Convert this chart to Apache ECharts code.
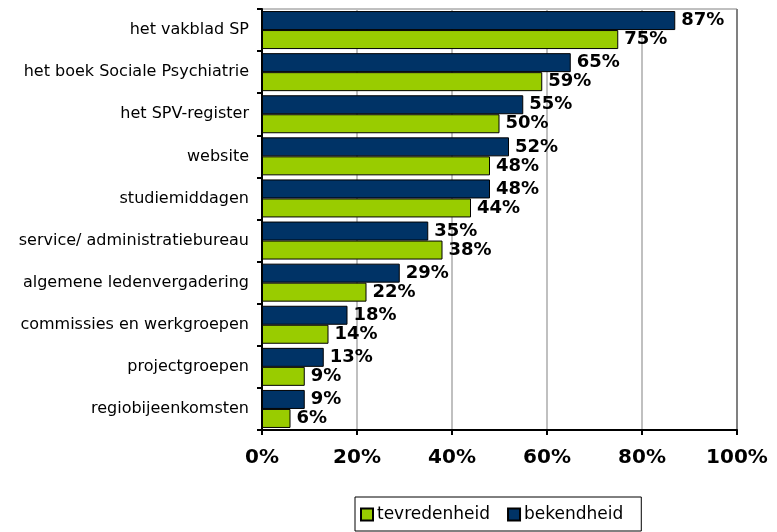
<!DOCTYPE html>
<html>
<head>
<meta charset="utf-8">
<script src="https://cdn.jsdelivr.net/npm/echarts@6/dist/echarts.min.js"></script>
<style>
  html, body { margin: 0; padding: 0; background: #fff; }
  #chart { width: 777px; height: 532px; }
</style>
</head>
<body>
<div id="chart"></div>
<script>
// Data
const categories = [
    'het vakblad SP',
    'het boek Sociale Psychiatrie',
    'het SPV-register',
    'website',
    'studiemiddagen',
    'service/ administratiebureau',
    'algemene ledenvergadering',
    'commissies en werkgroepen',
    'projectgroepen',
    'regiobijeenkomsten',
];
const bekendheid = [87, 65, 55, 52, 48, 35, 29, 18, 13, 9];
const tevredenheid = [75, 59, 50, 48, 44, 38, 22, 14, 9, 6];

const chart = echarts.init(document.getElementById('chart'));

const labelStyle = {
    show: true,
    position: 'right',
    distance: 6,
    formatter: '{c}%',
    color: '#000',
    fontFamily: 'DejaVu Sans',
    fontWeight: 'bold',
    fontSize: 18,
};

chart.setOption({
    animation: false,
    backgroundColor: '#fff',
    grid: {
        left: 262, right: 40, top: 9, bottom: 102,
        show: true, borderColor: '#808080', borderWidth: 1,
    },
    legend: {
        data: ['tevredenheid', 'bekendheid'],
        left: 355,
        bottom: 1,
        itemWidth: 12,
        itemHeight: 12,
        itemGap: 17,
        padding: [9, 18, 8, 5],
        borderColor: '#000',
        borderWidth: 1,
        textStyle: { fontFamily: 'DejaVu Sans', fontSize: 17, color: '#000', padding: [0, 0, 0, -1] },
        icon: 'rect',
    },
    xAxis: {
        type: 'value',
        min: 0,
        max: 100,
        interval: 20,
        axisLine: { show: true, lineStyle: { color: '#000', width: 2 } },
        axisTick: { show: true, length: 5, lineStyle: { color: '#000', width: 2 } },
        axisLabel: {
            formatter: '{value}%',
            fontFamily: 'DejaVu Sans',
            fontWeight: 'bold',
            fontSize: 20,
            color: '#000',
            margin: 18,
        },
        splitLine: {
            show: true,
            lineStyle: {
                color: ['#c0c0c0', '#c0c0c0', '#c0c0c0', '#c0c0c0', '#c0c0c0', '#808080'],
                width: 2,
            },
        },
    },
    yAxis: {
        type: 'category',
        data: categories,
        inverse: true,
        axisLine: { show: true, lineStyle: { color: '#000', width: 2 } },
        axisTick: { show: true, length: 5, lineStyle: { color: '#000', width: 2 } },
        axisLabel: {
            fontFamily: 'DejaVu Sans',
            fontSize: 16,
            color: '#000',
            margin: 13,
        },
    },
    series: [
        {
            name: 'bekendheid',
            type: 'bar',
            data: bekendheid,
            barWidth: 19,
            barGap: '0%',
            itemStyle: { color: '#003366', borderColor: '#000', borderWidth: 1 },
            label: labelStyle,
        },
        {
            name: 'tevredenheid',
            type: 'bar',
            data: tevredenheid,
            barWidth: 19,
            barGap: '0%',
            itemStyle: { color: '#99cc00', borderColor: '#000', borderWidth: 1 },
            label: labelStyle,
        },
    ],
});
</script>
</body>
</html>
